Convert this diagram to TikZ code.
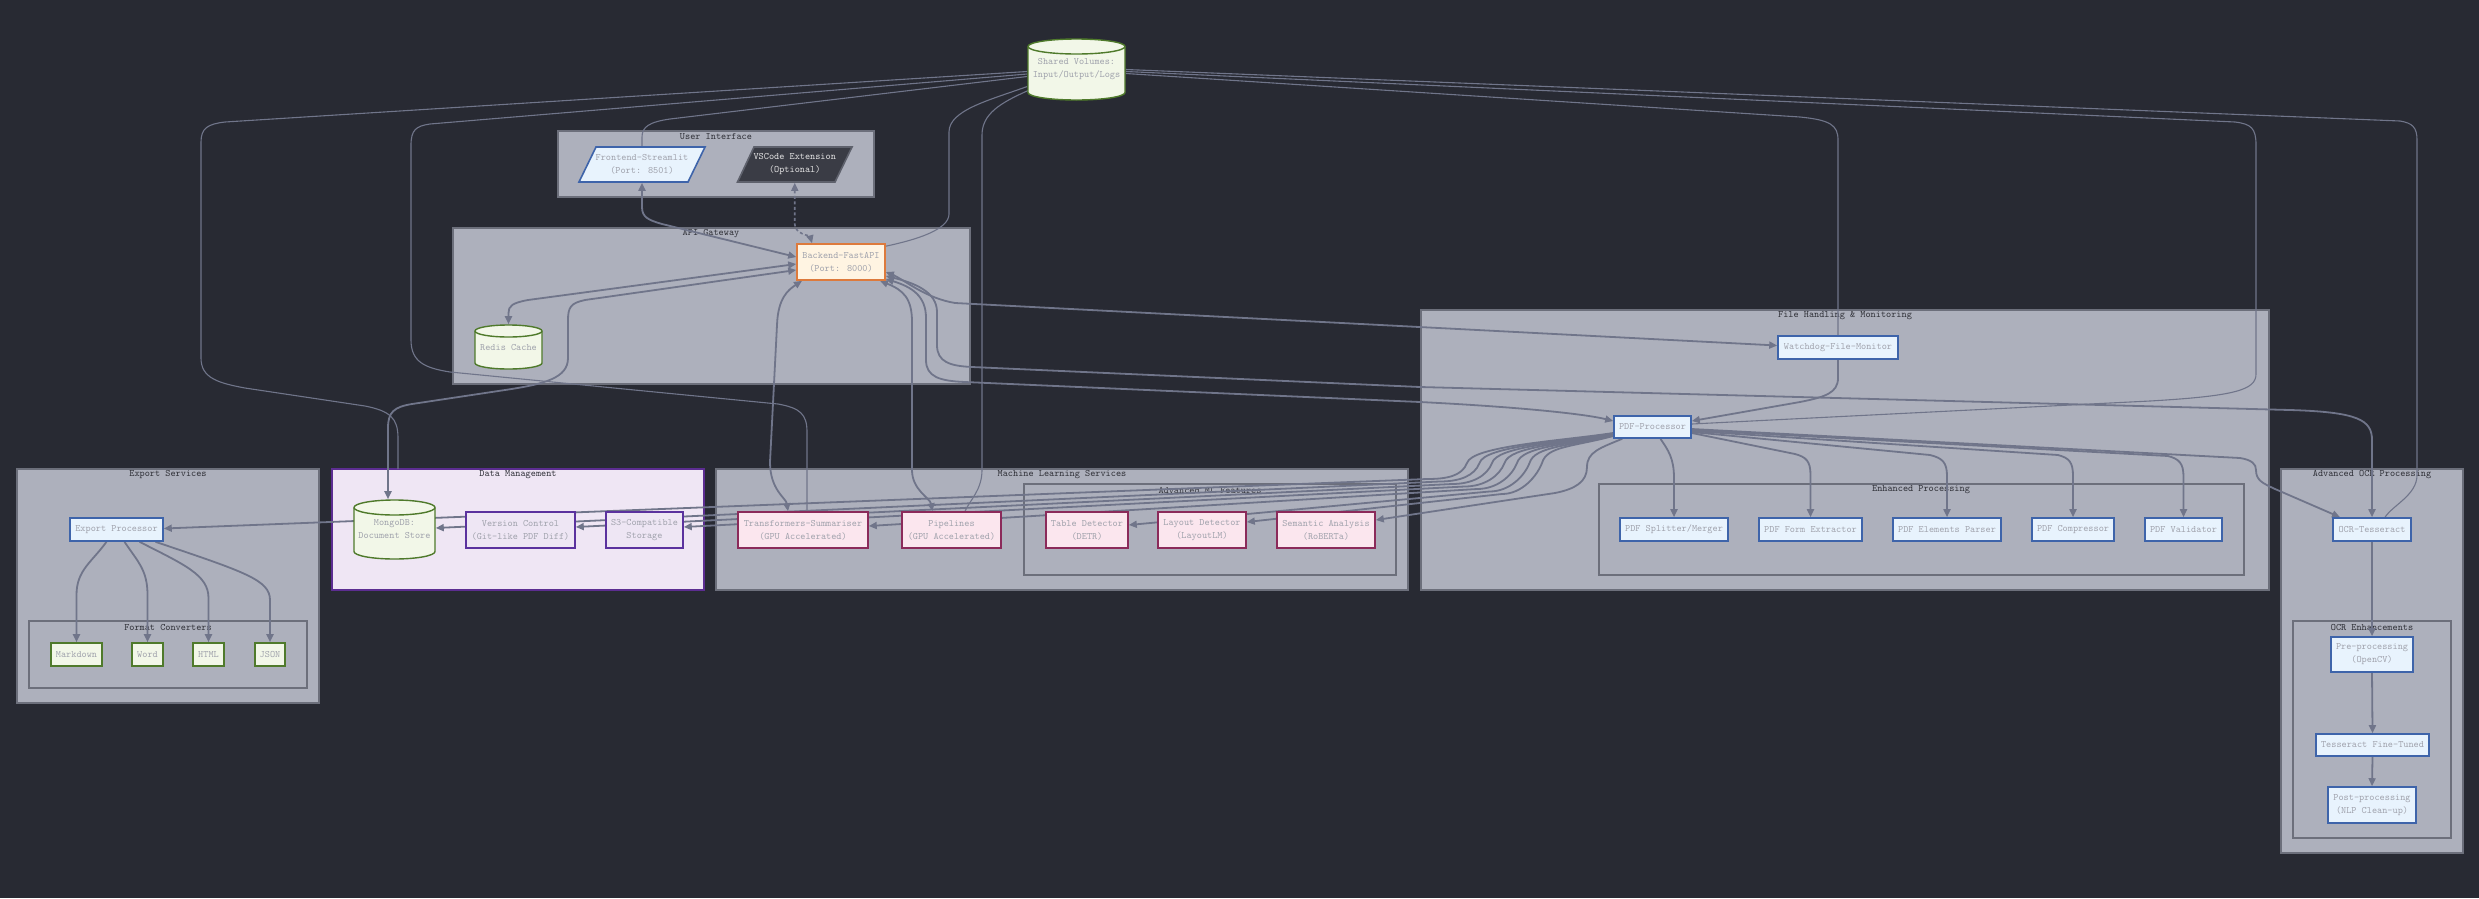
\documentclass[tikz,border=0pt]{standalone}
\usepackage{fontspec}
\usetikzlibrary{arrows.meta,calc}
\definecolor{bgc}{RGB}{40,42,51}
\definecolor{clfill}{RGB}{173,176,188}
\definecolor{cldraw}{RGB}{108,111,123}
\definecolor{cltext}{RGB}{46,47,54}
\definecolor{ndtext}{RGB}{160,162,172}
\definecolor{edgec}{RGB}{112,117,138}
\definecolor{bfill}{RGB}{232,243,253}
\definecolor{bdraw}{RGB}{62,100,170}
\definecolor{gfill}{RGB}{242,247,232}
\definecolor{gdraw}{RGB}{79,122,43}
\definecolor{pfill}{RGB}{238,230,244}
\definecolor{pdraw}{RGB}{91,50,158}
\definecolor{mfill}{RGB}{251,230,238}
\definecolor{mdraw}{RGB}{139,42,90}
\definecolor{ofill}{RGB}{255,244,226}
\definecolor{odraw}{RGB}{221,122,60}
\definecolor{vfill}{RGB}{58,60,69}
\definecolor{vdraw}{RGB}{94,97,108}
\definecolor{vtext}{RGB}{228,228,228}
\definecolor{dmfill}{RGB}{239,230,244}
\definecolor{dmdraw}{RGB}{92,45,145}
\pgfdeclarelayer{bg}
\pgfdeclarelayer{edges}
\pgfsetlayers{bg,edges,main}
\tikzset{
  cluster/.style={fill=clfill, draw=cldraw, line width=1.3pt},
  dmcluster/.style={fill=dmfill, draw=dmdraw, line width=1.3pt},
  cllabel/.style={inner sep=0pt, text=cltext, font=\fontsize{9.8}{12}\selectfont\ttfamily},
  box/.style={rectangle, inner sep=0pt, line width=1.6pt, align=center, text=ndtext, font=\fontsize{9.8}{13}\selectfont\ttfamily},
  bnode/.style={box, fill=bfill, draw=bdraw},
  gnode/.style={box, fill=gfill, draw=gdraw},
  pnode/.style={box, fill=pfill, draw=pdraw},
  mnode/.style={box, fill=mfill, draw=mdraw},
  onode/.style={box, fill=ofill, draw=odraw},
  bare/.style={box},
  cylshape/.style={fill=gfill, draw=gdraw, line width=1.4pt},
  cylline/.style={draw=gdraw, line width=1.4pt},
  link/.style={draw=edgec, line width=1.8pt},
  tlink/.style={draw=edgec, line width=1.1pt},
  dotlink/.style={draw=edgec, line width=1.6pt, dash pattern=on 3pt off 2.5pt},
  onehead/.style={-{Triangle[length=8pt,width=7pt]}},
  twohead/.style={{Triangle[length=8pt,width=7pt]}-{Triangle[length=8pt,width=7pt]}},
}
\begin{document}
\begin{tikzpicture}[x=1pt,y=-1pt]
\useasboundingbox (0,0) rectangle (2479,898);
\begin{pgfonlayer}{bg}
\fill[bgc] (0,0) rectangle (2479,898);
% clusters
\draw[cluster] (558,131) rectangle (874,197);
\draw[cluster] (453,228) rectangle (970,384);
\draw[cluster] (1421,310) rectangle (2269,590);
\draw[cluster] (1599,484) rectangle (2244,575);
\draw[cluster] (17,469) rectangle (319,703);
\draw[cluster] (29,621) rectangle (307,688);
\draw[dmcluster] (332,469) rectangle (704,590);
\draw[cluster] (716,469) rectangle (1408,590);
\draw[cluster] (1024,484) rectangle (1396,575);
\draw[cluster] (2281,469) rectangle (2463,853);
\draw[cluster] (2293,621) rectangle (2451,838);
\node[cllabel] (lui) at (716,137) {User Interface};
\node[cllabel] (lapi) at (711,234) {API Gateway};
\node[cllabel] (lfh) at (1845,316) {File Handling \& Monitoring};
\node[cllabel] (lep) at (1921,490) {Enhanced Processing};
\node[cllabel] (les) at (168,475) {Export Services};
\node[cllabel] (lfc) at (168,627) {Format Converters};
\node[cllabel] (ldm) at (518,475) {Data Management};
\node[cllabel] (lml) at (1062,475) {Machine Learning Services};
\node[cllabel] (laml) at (1210,490) {Advanced ML Features};
\node[cllabel] (locr) at (2372,475) {Advanced OCR Processing};
\node[cllabel] (locre) at (2372,627) {OCR Enhancements};
\end{pgfonlayer}

% shapes drawn directly (cylinders, parallelograms)
\path[cylshape] (1028,46.5) -- (1028,92.5) arc[start angle=180,end angle=360,x radius=48.5pt,y radius=7.5pt] -- (1125,46.5) arc[start angle=0,end angle=180,x radius=48.5pt,y radius=7.5pt] -- cycle;
\draw[cylline] (1028,46.5) arc[start angle=180,end angle=360,x radius=48.5pt,y radius=7.5pt];
\path[cylshape] (475,331) -- (475,363) arc[start angle=180,end angle=360,x radius=33.5pt,y radius=6pt] -- (542,331) arc[start angle=0,end angle=180,x radius=33.5pt,y radius=6pt] -- cycle;
\draw[cylline] (475,331) arc[start angle=180,end angle=360,x radius=33.5pt,y radius=6pt];
\path[cylshape] (354,507.5) -- (354,551.5) arc[start angle=180,end angle=360,x radius=40.5pt,y radius=7.5pt] -- (435,507.5) arc[start angle=0,end angle=180,x radius=40.5pt,y radius=7.5pt] -- cycle;
\draw[cylline] (354,507.5) arc[start angle=180,end angle=360,x radius=40.5pt,y radius=7.5pt];
\path[fill=bfill, draw=bdraw, line width=1.6pt] (596,147) -- (705,147) -- (688,182) -- (579,182) -- cycle;
\path[fill=vfill, draw=vdraw, line width=1.6pt] (754,147) -- (852,147) -- (835,182) -- (737.5,182) -- cycle;

% nodes
\node[bare, minimum width=97pt, minimum height=61pt] (sv) at (1076.5,69.5) {Shared Volumes:\\Input/Output/Logs};
\node[bare, minimum width=126pt, minimum height=35pt] (fe) at (642,164.5) {Frontend-Streamlit\\(Port: 8501)};
\node[bare, text=vtext, minimum width=114.5pt, minimum height=35pt] (vsc) at (794.75,164.5) {VSCode Extension\\(Optional)};
\node[onode, minimum width=88pt, minimum height=36pt] (be) at (841,262) {Backend-FastAPI\\(Port: 8000)};
\node[bare, minimum width=67pt, minimum height=44pt] (redis) at (508.5,347) {Redis Cache};
\node[bnode, minimum width=120pt, minimum height=23pt] (wd) at (1838,347.5) {Watchdog-File-Monitor};
\node[bnode, minimum width=77pt, minimum height=22pt] (pdf) at (1652.5,427) {PDF-Processor};
\node[bnode, minimum width=108pt, minimum height=23pt] (spl) at (1674,529.5) {PDF Splitter/Merger};
\node[bnode, minimum width=103pt, minimum height=23pt] (form) at (1810.5,529.5) {PDF Form Extractor};
\node[bnode, minimum width=108pt, minimum height=23pt] (elem) at (1947,529.5) {PDF Elements Parser};
\node[bnode, minimum width=82pt, minimum height=23pt] (comp) at (2073,529.5) {PDF Compressor};
\node[bnode, minimum width=77pt, minimum height=23pt] (val) at (2183.5,529.5) {PDF Validator};
\node[bnode, minimum width=93pt, minimum height=23pt] (exp) at (116.5,529.5) {Export Processor};
\node[gnode, minimum width=51pt, minimum height=23pt] (md) at (76.5,654.5) {Markdown};
\node[gnode, minimum width=31pt, minimum height=23pt] (word) at (147.5,654.5) {Word};
\node[gnode, minimum width=31pt, minimum height=23pt] (html) at (208.5,654.5) {HTML};
\node[gnode, minimum width=30pt, minimum height=23pt] (json) at (270,654.5) {JSON};
\node[bare, minimum width=81pt, minimum height=59pt] (mongo) at (394.5,529.5) {MongoDB:\\Document Store};
\node[pnode, minimum width=109pt, minimum height=36pt] (vc) at (520.5,530) {Version Control\\(Git-like PDF Diff)};
\node[pnode, minimum width=77pt, minimum height=36pt] (s3) at (644.5,530) {S3-Compatible\\Storage};
\node[mnode, minimum width=130pt, minimum height=36pt] (tr) at (803,530) {Transformers-Summariser\\(GPU Accelerated)};
\node[mnode, minimum width=99pt, minimum height=36pt] (pipe) at (951.5,530) {Pipelines\\(GPU Accelerated)};
\node[mnode, minimum width=82pt, minimum height=36pt] (tab) at (1087,530) {Table Detector\\(DETR)};
\node[mnode, minimum width=88pt, minimum height=36pt] (lay) at (1202,530) {Layout Detector\\(LayoutLM)};
\node[mnode, minimum width=98pt, minimum height=36pt] (sem) at (1326,530) {Semantic Analysis\\(RoBERTa)};
\node[bnode, minimum width=78pt, minimum height=23pt] (ocr) at (2372,529.5) {OCR-Tesseract};
\node[bnode, minimum width=82pt, minimum height=35pt] (pre) at (2372,654.5) {Pre-processing\\(OpenCV)};
\node[bnode, minimum width=113pt, minimum height=22pt] (ft) at (2372.5,745) {Tesseract Fine-Tuned};
\node[bnode, minimum width=88pt, minimum height=36pt] (post) at (2372,805) {Post-processing\\(NLP Clean-up)};
\coordinate (dmtop) at (398,469);

\begin{pgfonlayer}{edges}
% Backend links
\draw[link,twohead] (fe.south) -- (642,207) .. controls (642,217) and (648,220) .. (662,224) -- ($(be.west)+(0,-5)$);
\draw[dotlink,twohead] (vsc.south) -- (794.75,224) .. controls (794.75,234) and (810,236) .. ($(be.north)+(-29,0)$);
\draw[link,twohead] ($(be.west)+(0,2)$) -- (528,300) .. controls (512,303) and (508.5,306) .. (508.5,313) -- (redis.north);
\draw[link,twohead] ($(be.west)+(0,8)$) -- (585,300) .. controls (571,303) and (568,307) .. (568,320) -- (568,358) .. controls (568,378) and (545,384) .. (505,390) -- (412,404) .. controls (394,407) and (388,412) .. (388,428) -- ($(mongo.north)+(-6.5,0)$);
\draw[link,twohead] ($(be.south)+(-39,0)$) .. controls (788,290) and (778,298) .. (777,325) -- (770,462) .. controls (770,490) and (786,498) .. ($(tr.north)+(-15,0)$);
\draw[link,twohead] ($(be.south)+(39,0)$) .. controls (903,290) and (912,298) .. (912,322) -- (912,470) .. controls (912,490) and (930,498) .. ($(pipe.north)+(-19,0)$);
\draw[link,twohead] ($(be.east)+(0,10)$) .. controls (905,280) and (925,298) .. (955,303) -- ($(wd.west)+(0,-2)$);
\draw[link,twohead] ($(be.east)+(0,14)$) .. controls (915,283) and (937,292) .. (937,312) -- (937,345) .. controls (937,362) and (950,366) .. (972,367) -- (1420,387) -- (2290,410) .. controls (2358,412) and (2372,420) .. (2372,440) -- (ocr.north);
\draw[link,twohead] ($(be.east)+(0,17)$) .. controls (912,287) and (926,296) .. (926,318) -- (926,360) .. controls (926,377) and (940,381) .. (965,382) -- (1420,402) .. controls (1520,407) and (1585,414) .. ($(pdf.west)+(0,-6)$);
% watchdog -> pdf
\draw[link,onehead] (wd.south) -- (1838,378) .. controls (1838,393) and (1825,397) .. (1800,402) -- ($(pdf.east)+(0,-6)$);
% pdf -> enhanced processing
\draw[link,onehead] ($(pdf.south)+(8,0)$) .. controls (1668,450) and (1674,458) .. (1674,478) -- (spl.north);
\draw[link,onehead] ($(pdf.east)+(0,6)$) -- (1795,454) .. controls (1806,457) and (1810.5,461) .. (1810.5,475) -- (form.north);
\draw[link,onehead] ($(pdf.east)+(0,5)$) -- (1930,455) .. controls (1942,458) and (1947,462) .. (1947,476) -- (elem.north);
\draw[link,onehead] ($(pdf.east)+(0,4)$) -- (2058,455) .. controls (2069,458) and (2073,462) .. (2073,476) -- (comp.north);
\draw[link,onehead] ($(pdf.east)+(0,3)$) -- (2168,456) .. controls (2179,459) and (2183.5,463) .. (2183.5,477) -- (val.north);
\draw[link,onehead] ($(pdf.east)+(0,2)$) -- (2240,458) .. controls (2252,460) and (2256,464) .. (2256,470) .. controls (2256,480) and (2262,483) .. (2275,489) -- ($(ocr.north)+(-32,0)$);
% pdf -> left bundle
\draw[link,onehead] ($(pdf.west)+(0,6)$) .. controls (1560,441) and (1472,446) .. (1467,463) .. controls (1462,476) and (1447,479) .. (1427,479) -- ($(exp.east)+(0,-1)$);
\draw[link,onehead] ($(pdf.west)+(0,6.5)$) .. controls (1562,442) and (1484.5,446) .. (1479.5,463) .. controls (1474.5,476) and (1459.5,481.5) .. (1439.5,481.5) -- ($(mongo.east)+(0,-1.5)$);
\draw[link,onehead] ($(pdf.west)+(0,7)$) .. controls (1564,443) and (1497,446) .. (1492,463) .. controls (1487,476) and (1472,484) .. (1452,484) -- ($(vc.east)+(0,-3)$);
\draw[link,onehead] ($(pdf.west)+(0,7.5)$) .. controls (1566,444) and (1509.5,446) .. (1504.5,463) .. controls (1499.5,476) and (1484.5,486.5) .. (1464.5,486.5) -- ($(s3.east)+(0,-3)$);
\draw[link,onehead] ($(pdf.west)+(0,8)$) .. controls (1568,445) and (1522,446) .. (1517,463) .. controls (1512,476) and (1497,489) .. (1477,489) -- ($(tr.east)+(0,-4)$);
\draw[link,onehead] ($(pdf.west)+(0,8.5)$) .. controls (1570,446) and (1534.5,446) .. (1529.5,463) .. controls (1524.5,476) and (1509.5,491.5) .. (1489.5,491.5) -- ($(tab.east)+(0,-5)$);
\draw[link,onehead] ($(pdf.west)+(0,9)$) .. controls (1572,447) and (1547,446) .. (1542,463) .. controls (1537,476) and (1522,494) .. (1502,494) -- ($(lay.east)+(0,-8)$);
\draw[link,onehead] ($(pdf.south west)+(9,0)$) .. controls (1600,448) and (1587,452) .. (1587,467) .. controls (1587,482) and (1575,489) .. (1555,493) -- ($(sem.east)+(0,-10)$);
% export
\draw[link,onehead] ($(exp.south)+(-10,0)$) .. controls (92,562) and (76.5,570) .. (76.5,595) -- (md.north);
\draw[link,onehead] ($(exp.south)+(8,0)$) .. controls (138,562) and (147.5,570) .. (147.5,595) -- (word.north);
\draw[link,onehead] ($(exp.south)+(23,0)$) .. controls (185,565) and (208.5,575) .. (208.5,598) -- (html.north);
\draw[link,onehead] ($(exp.south)+(39,0)$) .. controls (245,572) and (270,580) .. (270,600) -- (json.north);
% ocr chain
\draw[link,onehead] (ocr.south) -- (pre.north);
\draw[link,onehead] (pre.south) -- (ft.north);
\draw[link,onehead] (ft.south) -- (post.north);
% shared volumes
\draw[tlink] ($(sv.west)+(0,2)$) -- (225,122) .. controls (208,124) and (201,128) .. (201,142) -- (201,358) .. controls (201,378) and (218,383) .. (245,388) -- (365,406) .. controls (390,411) and (398,418) .. (398,438) -- (dmtop);
\draw[tlink] ($(sv.west)+(0,4.5)$) -- (430,124) .. controls (416,126) and (411,130) .. (411,145) -- (411,340) .. controls (411,362) and (425,368) .. (450,372) -- (778,404) .. controls (800,408) and (807,414) .. (807,432) -- ($(tr.north)+(4,0)$);
\draw[tlink] ($(sv.west)+(0,7)$) -- (670,119) .. controls (649,122) and (642,127) .. (642,137) -- (fe.north);
\draw[tlink] ($(sv.west)+(0,17)$) .. controls (990,100) and (949,110) .. (949,132) -- (949,214) .. controls (949,230) and (915,240) .. ($(be.north east)+(0,3)$);
\draw[tlink] ($(sv.west)+(1,21)$) .. controls (1000,103) and (982,114) .. (982,135) -- (982,470) .. controls (982,490) and (970,500) .. ($(pipe.north)+(13.5,0)$);
\draw[tlink] ($(sv.east)+(0,4)$) -- (1800,117) .. controls (1830,120) and (1838,125) .. (1838,140) -- (wd.north);
\draw[tlink] ($(sv.east)+(0,2)$) -- (2235,122) .. controls (2251,124) and (2256,128) .. (2256,145) -- (2256,374) .. controls (2256,390) and (2235,396) .. (2150,401) -- ($(pdf.east)+(0,-3)$);
\draw[tlink] (sv.east) -- (2400,121) .. controls (2412,123) and (2417,127) .. (2417,140) -- (2417,475) .. controls (2417,495) and (2393,505) .. ($(ocr.north)+(13,0)$);
\end{pgfonlayer}
\end{tikzpicture}
\end{document}
